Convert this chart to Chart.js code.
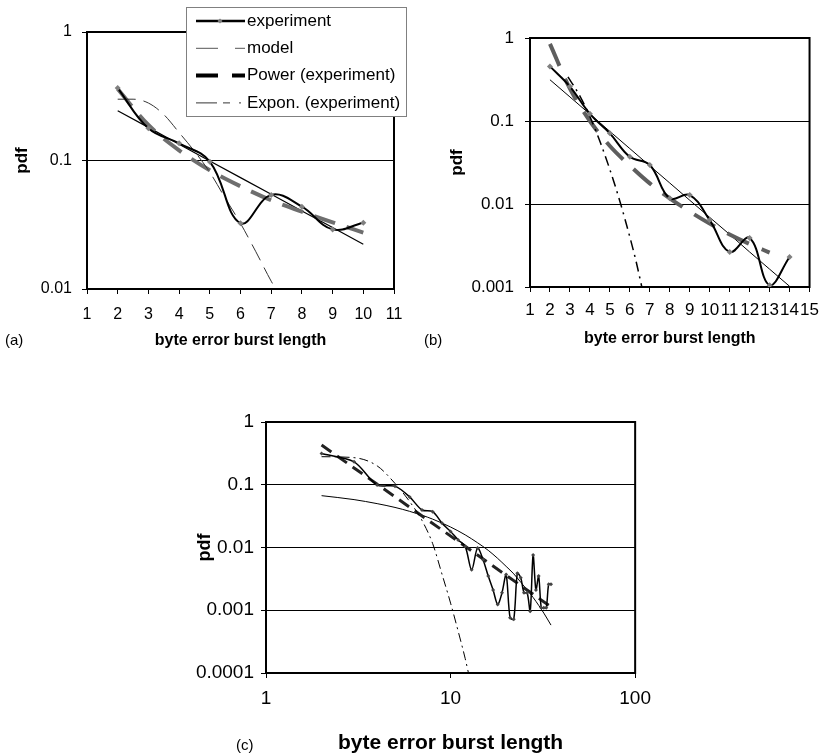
<!DOCTYPE html>
<html>
<head>
<meta charset="utf-8">
<script src="https://cdn.jsdelivr.net/npm/chart.js@4.4.1/dist/chart.umd.min.js"></script>
<style>
  body { margin: 0; background: #fff; width: 827px; height: 756px; overflow: hidden; position: relative;
         font-family: "Liberation Sans", Arial, sans-serif; }
  canvas { position: absolute; }
  .tag { position: absolute; font-size: 15px; color: #000; line-height: 18px; }
</style>
</head>
<body>
<canvas id="chartA" width="414" height="356" style="left:0;top:0"></canvas>
<canvas id="chartB" width="413" height="356" style="left:414px;top:0"></canvas>
<canvas id="chartC" width="480" height="400" style="left:180px;top:356px"></canvas>
<div class="tag" style="left:5px;top:331px">(a)</div>
<div class="tag" style="left:424px;top:331px">(b)</div>
<div class="tag" style="left:236px;top:736px">(c)</div>
<script>
// ---- data (a) ----
const xA = [2, 3, 4, 5, 6, 7, 8, 9, 10];
const expA = [0.366, 0.178, 0.136, 0.098, 0.0325, 0.054, 0.0437, 0.0291, 0.0328];
const powA = [0.36, 0.189, 0.12, 0.084, 0.063, 0.049, 0.040, 0.033, 0.0275];
const expoA = [0.244, 0.181, 0.134, 0.099, 0.0736, 0.0547, 0.0405, 0.0301, 0.0223];
const modelXA = [2, 2.5, 3, 3.5, 4, 4.5, 5, 5.5, 6, 6.5, 7, 7.15];
const modelA = [0.30, 0.30, 0.28, 0.228, 0.165, 0.118, 0.081, 0.051, 0.0324, 0.0195, 0.0115, 0.01];
const yTicksA = [0.01, 0.1, 1];

// ---- data (b) ----
const xB = [2, 3, 4, 5, 6, 7, 8, 9, 10, 11, 12, 13, 14];
const expB = [0.455, 0.26, 0.122, 0.071, 0.037, 0.0295, 0.0117, 0.0128, 0.0064, 0.00264, 0.0039, 0.00105, 0.0023];
const powXB = [2, 3, 4, 5, 6, 7, 8, 9, 10, 11, 12, 13];
const powB = [0.85, 0.245, 0.10, 0.050, 0.029, 0.0177, 0.0117, 0.0081, 0.0058, 0.0043, 0.0033, 0.0026];
const expoB = [0.314, 0.195, 0.121, 0.0749, 0.0465, 0.0288, 0.0179, 0.0111, 0.0069, 0.0043, 0.00264, 0.00164, 0.00102];
const modelXB = [2.9, 3.5, 4, 4.5, 5, 5.5, 6, 6.3, 6.6];
const modelB = [0.34, 0.2, 0.113, 0.057, 0.026, 0.0108, 0.004, 0.0021, 0.001];
const yTicksB = [0.001, 0.01, 0.1, 1];

// ---- data (c) ----
const xC = [2, 3, 4, 5, 6, 7, 8, 9, 10, 11, 12, 13, 14, 15, 16, 17, 18, 19, 20, 21, 22, 23, 24, 25, 26, 27, 28, 29, 30, 31, 32, 33, 34, 35];
const expC = [0.314, 0.232, 0.099, 0.095, 0.064, 0.0396, 0.0373, 0.0243, 0.018, 0.0132, 0.0104, 0.0044, 0.0098, 0.0064,
              0.0035, 0.0021, 0.00124, 0.0019, 0.0037, 0.00076, 0.00072, 0.0039, 0.0033, 0.0019, 0.0019, 0.00096,
              0.0076, 0.0021, 0.0035, 0.0011, 0.0011, 0.0011, 0.0026, 0.0026];
const powXC = [2, 35];
const powC = [0.43, 0.00113];
const expoXC = [2, 3, 4, 5, 6, 7, 8, 10, 12, 14, 16, 18, 20, 22, 24, 26, 28, 30, 32, 35];
const expoC = [0.067, 0.058, 0.050, 0.0435, 0.0377, 0.0327, 0.0283, 0.0212, 0.0159, 0.0119, 0.009, 0.0067,
               0.005, 0.0038, 0.0028, 0.0021, 0.0016, 0.0012, 0.0009, 0.00058];
const modelXC = [2, 3, 4, 5, 6, 7, 8, 9, 10, 11, 12, 12.5];
const modelC = [0.28, 0.27, 0.2, 0.105, 0.054, 0.027, 0.0115, 0.0037, 0.0013, 0.00046, 0.00017, 0.0001];
const xTicksC = [1, 10, 100];
const yTicksC = [0.0001, 0.001, 0.01, 0.1, 1];

const seriesNames = ['experiment', 'model', 'Power (experiment)', 'Expon. (experiment)'];

Chart.defaults.font.family = '"Liberation Sans", Arial, sans-serif';
Chart.defaults.color = '#000';

function pts(xs, ys) {
    return xs.map((x, i) => ({ x: x, y: ys[i] }));
}

// black box around the plot area
const framePlugin = {
    id: 'frame',
    beforeDatasetsDraw(chart) {
        const { ctx, chartArea: a } = chart;
        ctx.save();
        ctx.strokeStyle = '#000';
        ctx.lineWidth = 2;
        ctx.strokeRect(a.left, a.top, a.right - a.left, a.bottom - a.top);
        ctx.restore();
    }
};

// legend box drawn over chart (a)
const legendSamples = [
    { color: '#000', width: 2.5, dash: [], marker: true },
    { color: '#555', width: 1, dash: [22, 17, 10, 17] },
    { color: '#000', width: 4, dash: [22, 14, 13, 14] },
    { color: '#333', width: 1, dash: [21, 6, 7, 9, 2, 10] }
];
const legendPlugin = {
    id: 'legendA',
    afterDraw(chart) {
        const ctx = chart.ctx;
        ctx.save();
        ctx.fillStyle = '#fff';
        ctx.fillRect(186.5, 7.5, 220, 109);
        ctx.strokeStyle = '#808080';
        ctx.lineWidth = 1;
        ctx.strokeRect(186.5, 7.5, 220, 109);
        ctx.font = '17px "Liberation Sans", Arial, sans-serif';
        ctx.textBaseline = 'middle';
        legendSamples.forEach((s, i) => {
            const y = 21 + i * 27.3;
            ctx.beginPath();
            ctx.setLineDash(s.dash);
            ctx.lineWidth = s.width;
            ctx.strokeStyle = s.color;
            ctx.moveTo(196, y);
            ctx.lineTo(245, y);
            ctx.stroke();
            ctx.setLineDash([]);
            if (s.marker) {
                ctx.fillStyle = '#808080';
                ctx.beginPath();
                ctx.moveTo(220, y - 2.5); ctx.lineTo(222.5, y); ctx.lineTo(220, y + 2.5); ctx.lineTo(217.5, y);
                ctx.closePath();
                ctx.fill();
            }
            ctx.fillStyle = '#000';
            ctx.fillText(seriesNames[i], 247, y);
        });
        ctx.restore();
    }
};

function axisX(opts) {
    const ax = {
        type: opts.type || 'linear',
        min: opts.min,
        max: opts.max,
        border: { display: false },
        grid: { drawOnChartArea: false, drawTicks: true, tickLength: 5, color: '#000', lineWidth: 1 },
        ticks: { autoSkip: false, maxRotation: 0, padding: opts.labelPad, font: { size: opts.tickSize }, color: '#000' },
        title: { display: true, text: 'byte error burst length', font: { size: opts.titleSize, weight: 'bold' },
                 padding: { top: 0, bottom: opts.titlePad }, color: '#000' },
        afterFit: s => { s.height = opts.height; }
    };
    if (opts.ticksList) {
        ax.afterBuildTicks = s => { s.ticks = opts.ticksList.map(v => ({ value: v })); };
        ax.ticks.callback = v => String(v);
    } else {
        ax.ticks.stepSize = 1;
    }
    return ax;
}

function axisY(opts) {
    return {
        type: 'logarithmic',
        min: opts.ticksList[0],
        max: opts.ticksList[opts.ticksList.length - 1],
        border: { display: false },
        grid: { drawOnChartArea: true, drawTicks: true, tickLength: 5, color: '#000', lineWidth: 1 },
        afterBuildTicks: s => { s.ticks = opts.ticksList.map(v => ({ value: v })); },
        ticks: { autoSkip: false, padding: opts.labelPad, font: { size: opts.tickSize }, color: '#000',
                 callback: v => String(v) },
        title: { display: true, text: 'pdf', font: { size: opts.titleSize, weight: 'bold' },
                 padding: { top: opts.titlePad, bottom: 0 }, color: '#000' },
        afterFit: s => { s.width = opts.width; }
    };
}

function commonOptions(pad, scales) {
    return {
        responsive: false,
        animation: false,
        devicePixelRatio: 1,
        layout: { padding: pad },
        plugins: { legend: { display: false }, tooltip: { enabled: false } },
        elements: { point: { radius: 0 } },
        scales: scales
    };
}

// ---- chart (a) ----
new Chart(document.getElementById('chartA'), {
    type: 'line',
    data: {
        datasets: [
            { label: seriesNames[0], data: pts(xA, expA), borderColor: '#000', borderWidth: 2, tension: 0.4,
              pointRadius: 3, pointStyle: 'rectRot', pointBackgroundColor: '#808080', pointBorderWidth: 0 },
            { label: seriesNames[1], data: pts(modelXA, modelA), borderColor: '#333', borderWidth: 1,
              borderDash: [18, 8], cubicInterpolationMode: 'monotone' },
            { label: seriesNames[2], data: pts(xA, powA), borderColor: '#6e6e6e', borderWidth: 4,
              borderDash: [22, 12], cubicInterpolationMode: 'monotone' },
            { label: seriesNames[3], data: pts(xA, expoA), borderColor: '#000', borderWidth: 1.2 }
        ]
    },
    options: commonOptions({ top: 32, right: 20, left: 0, bottom: 0 }, {
        x: axisX({ min: 1, max: 11, labelPad: 11, tickSize: 16, titleSize: 16, titlePad: 6, height: 67 }),
        y: axisY({ ticksList: yTicksA, labelPad: 10, tickSize: 16, titleSize: 17, titlePad: 12, width: 87 })
    }),
    plugins: [framePlugin, legendPlugin]
});

// ---- chart (b) ----
new Chart(document.getElementById('chartB'), {
    type: 'line',
    data: {
        datasets: [
            { label: seriesNames[0], data: pts(xB, expB), borderColor: '#000', borderWidth: 2, tension: 0.4,
              pointRadius: 3, pointStyle: 'rectRot', pointBackgroundColor: '#808080', pointBorderWidth: 0 },
            { label: seriesNames[1], data: pts(modelXB, modelB), borderColor: '#000', borderWidth: 1.5,
              borderDash: [10, 5, 2, 5], cubicInterpolationMode: 'monotone' },
            { label: seriesNames[2], data: pts(powXB, powB), borderColor: '#5e5e5e', borderWidth: 4,
              borderDash: [24, 14], cubicInterpolationMode: 'monotone' },
            { label: seriesNames[3], data: pts(xB, expoB), borderColor: '#000', borderWidth: 1 }
        ]
    },
    options: commonOptions({ top: 38, right: 13, left: 0, bottom: 0 }, {
        x: axisX({ min: 1, max: 15, labelPad: 8, tickSize: 17, titleSize: 16, titlePad: 8, height: 69 }),
        y: axisY({ ticksList: yTicksB, labelPad: 11, tickSize: 17, titleSize: 17, titlePad: 33, width: 116 })
    }),
    plugins: [framePlugin]
});

// ---- chart (c) ----
new Chart(document.getElementById('chartC'), {
    type: 'line',
    data: {
        datasets: [
            { label: seriesNames[0], data: pts(xC, expC), borderColor: '#000', borderWidth: 1.5, tension: 0.3,
              pointRadius: 2, pointStyle: 'rectRot', pointBackgroundColor: '#444', pointBorderWidth: 0 },
            { label: seriesNames[1], data: pts(modelXC, modelC), borderColor: '#000', borderWidth: 1,
              borderDash: [9, 4, 2, 4], cubicInterpolationMode: 'monotone' },
            { label: seriesNames[2], data: pts(powXC, powC), borderColor: '#222', borderWidth: 3,
              borderDash: [12, 7] },
            { label: seriesNames[3], data: pts(expoXC, expoC), borderColor: '#000', borderWidth: 1,
              cubicInterpolationMode: 'monotone' }
        ]
    },
    options: commonOptions({ top: 66, right: 18, left: 0, bottom: 0 }, {
        x: axisX({ type: 'logarithmic', min: 1, max: 100, ticksList: xTicksC, labelPad: 9, tickSize: 19,
                   titleSize: 21, titlePad: 0, height: 83 }),
        y: axisY({ ticksList: yTicksC, labelPad: 7, tickSize: 19, titleSize: 18, titlePad: 14, width: 86 })
    }),
    plugins: [framePlugin]
});
</script>
</body>
</html>
